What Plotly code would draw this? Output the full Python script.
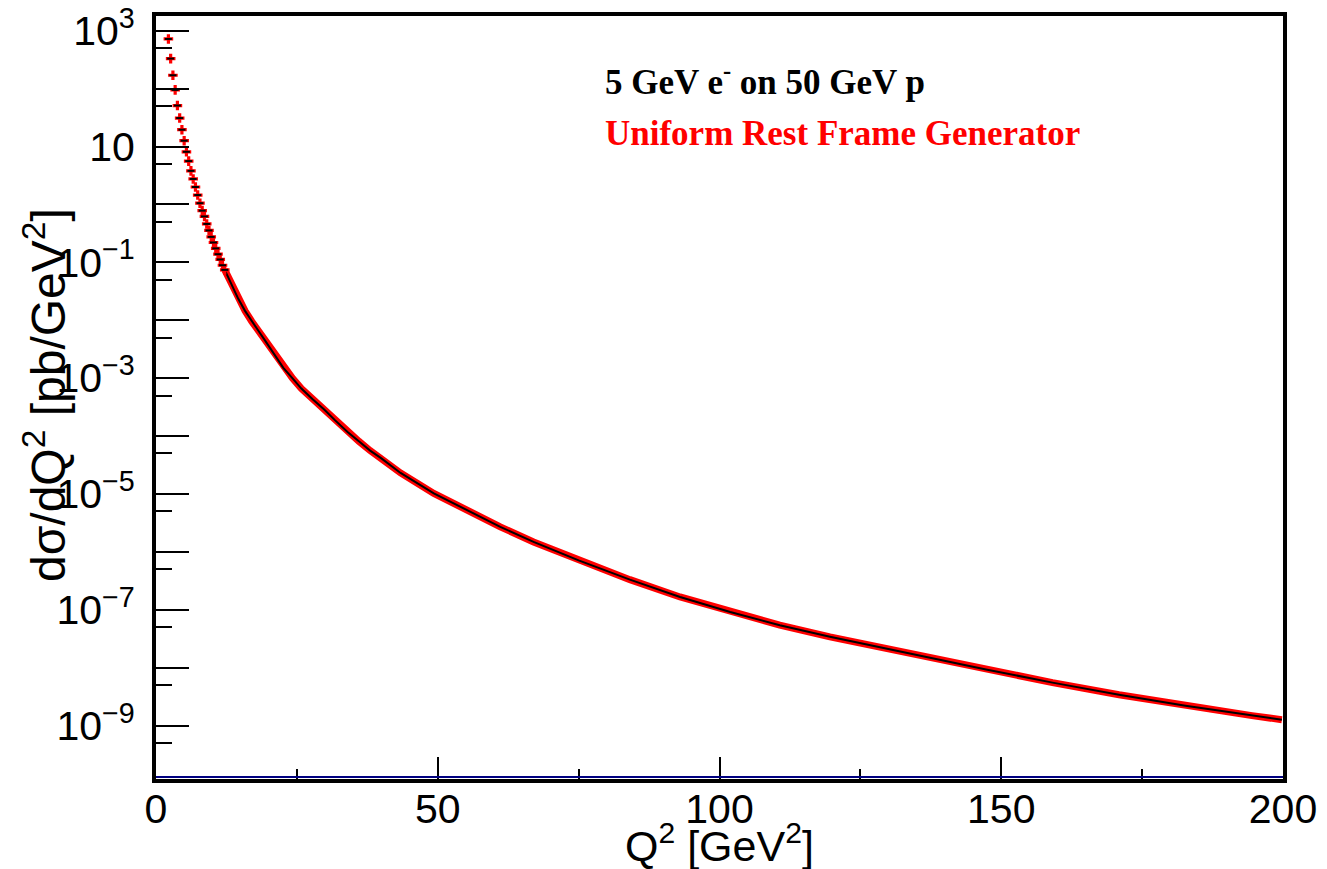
import plotly.graph_objects as go

# Q^2 bin centres [GeV^2] and dsigma/dQ^2 [pb/GeV^2], steep low-Q^2 part (individual points)
q2_low = [1.8, 2.2, 2.6, 3.0, 3.4, 3.8, 4.2, 4.6, 5.0, 5.4, 5.8, 6.2, 6.6, 7.0,
          7.4, 7.8, 8.2, 8.6, 9.0, 9.4, 9.8, 10.2, 10.6, 11.0, 11.4, 11.8, 12.2]
xsec_low = [1.86e3, 7.2e2, 3.3e2, 1.7e2, 95.0, 51.0, 31.0, 19.5, 12.6, 8.1, 5.6,
            3.8, 2.75, 2.0, 1.45, 1.05, 0.78, 0.62, 0.46, 0.355, 0.275, 0.22,
            0.174, 0.138, 0.112, 0.089, 0.074]

# smooth tail of the distribution
q2_tail = [12.2, 13.4, 14.6, 15.8, 17.0, 18.2, 19.4, 21.0, 22.6, 24.2, 25.8, 27.8,
           29.8, 31.8, 34.0, 36.0, 38.0, 40.0, 43.4, 49.3, 55.2, 61.1, 67.0, 75.0,
           84.1, 93.0, 101.9, 110.7, 119.6, 128.4, 135.5, 147.3, 159.1, 170.9,
           182.7, 194.5, 199.8]
xsec_tail = [7.4e-2, 4.1e-2, 2.34e-2, 1.45e-2, 9.5e-3, 6.5e-3, 4.4e-3, 2.5e-3,
             1.5e-3, 1.0e-3, 6.6e-4, 4.3e-4, 2.9e-4, 1.86e-4, 1.17e-4, 8.1e-5,
             5.6e-5, 4.1e-5, 2.3e-5, 1.02e-5, 5.2e-6, 2.7e-6, 1.48e-6, 7.1e-7,
             3.3e-7, 1.66e-7, 9.1e-8, 5.4e-8, 3.4e-8, 2.24e-8, 1.58e-8, 9.3e-9,
             5.5e-9, 3.4e-9, 2.2e-9, 1.48e-9, 1.26e-9]

# axis ticks
x_major = [0, 50, 100, 150, 200]
x_minor = [25, 75, 125, 175]
y_exp = list(range(-9, 4))
y_major = [10.0 ** k for k in y_exp]
y_minor = [5 * 10.0 ** k for k in range(-10, 3)]


def decade_label(k):
    if k % 2 == 0:
        return ""
    if k == 1:
        return "10"
    return "10<sup>" + str(k).replace("-", "\u2212") + "</sup>"


y_text = [decade_label(k) for k in y_exp]

W, H = 1327, 869
L, R, T, B = 156, 44, 16, 90
PW, PH = W - L - R, H - T - B


def px(xp):
    return (xp - L) / PW


def py(yp):
    return (H - B - yp) / PH


SANS = "Liberation Sans, Arial, sans-serif"
SERIF = "Liberation Serif, Times New Roman, serif"

fig = go.Figure()
fig.add_trace(go.Scatter(x=q2_tail, y=xsec_tail, mode="lines",
                         line=dict(color="red", width=7), hoverinfo="skip"))
fig.add_trace(go.Scatter(x=q2_tail, y=xsec_tail, mode="lines",
                         line=dict(color="black", width=2)))
fig.add_trace(go.Scatter(x=q2_low, y=xsec_low, mode="markers", cliponaxis=False,
                         marker=dict(symbol="cross", size=8, color="red",
                                     line=dict(width=0))))
fig.add_trace(go.Scatter(x=q2_low, y=xsec_low, mode="markers", cliponaxis=False,
                         marker=dict(symbol="line-ew", size=5,
                                     line=dict(color="black", width=2))))

fig.update_layout(
    width=W, height=H,
    margin=dict(l=L, r=R, t=T, b=B, autoexpand=False),
    paper_bgcolor="white", plot_bgcolor="white",
    showlegend=False,
    font=dict(family=SANS, color="black"),
    xaxis=dict(
        range=[0, 200], tickmode="array", tickvals=x_major,
        ticktext=[str(v) for v in x_major], automargin=False,
        ticks="inside", ticklen=22, tickwidth=2, tickcolor="black",
        ticklabelstandoff=-9,
        minor=dict(tickmode="array", tickvals=x_minor, ticks="inside",
                   ticklen=10, tickwidth=2, tickcolor="black", showgrid=False),
        showline=True, linewidth=4, linecolor="black", mirror=True,
        showgrid=False, zeroline=False,
        tickfont=dict(family=SANS, size=41, color="black"),
    ),
    yaxis=dict(
        type="log", range=[-9.924, 3.254], tickmode="array",
        tickvals=y_major, ticktext=y_text, automargin=False,
        ticks="inside", ticklen=33, tickwidth=2, tickcolor="black",
        ticklabelstandoff=9,
        minor=dict(tickmode="array", tickvals=y_minor, ticks="inside",
                   ticklen=16, tickwidth=2, tickcolor="black", showgrid=False),
        showline=True, linewidth=4, linecolor="black", mirror=True,
        showgrid=False, zeroline=False,
        tickfont=dict(family=SANS, size=41, color="black"),
    ),
    shapes=[dict(type="line", xref="x", yref="paper", x0=0, x1=200,
                 y0=0.0025, y1=0.0025, line=dict(color="#000080", width=2))],
    annotations=[
        dict(text="Q<sup>2</sup> [GeV<sup>2</sup>]", xref="paper", yref="paper",
             x=px(719), y=py(843), xanchor="center", yanchor="middle",
             showarrow=False, font=dict(family=SANS, size=43, color="black")),
        dict(text="d\u03c3/dQ<sup>2</sup> [pb/GeV<sup>2</sup>]", xref="paper",
             yref="paper", x=px(45), y=py(395), xanchor="center",
             yanchor="middle", textangle=-90, showarrow=False,
             font=dict(family=SANS, size=48, color="black")),
        dict(text="<b>5 GeV e<sup>-</sup> on 50 GeV p</b>", xref="paper",
             yref="paper", x=px(603), y=py(80), xanchor="left",
             yanchor="middle", showarrow=False,
             font=dict(family=SERIF, size=35, color="black")),
        dict(text="<b>Uniform Rest Frame Generator</b>", xref="paper",
             yref="paper", x=px(603), y=py(133), xanchor="left",
             yanchor="middle", showarrow=False,
             font=dict(family=SERIF, size=35, color="red")),
    ],
)

fig.write_html("out.html")
